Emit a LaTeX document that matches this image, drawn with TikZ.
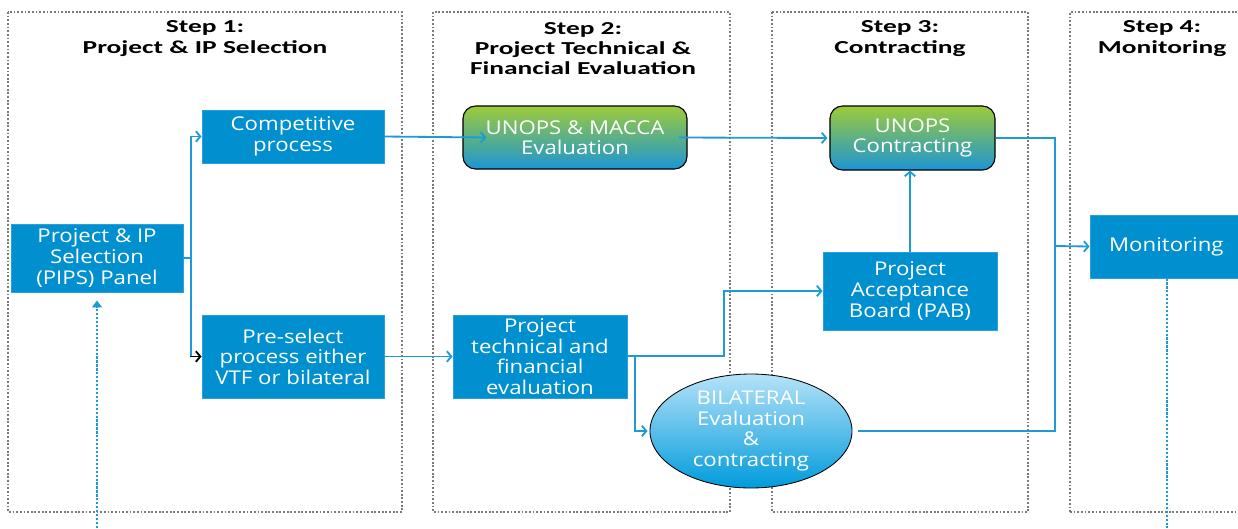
\documentclass[tikz,border=0pt]{standalone}
\usepackage{fontspec}
\usetikzlibrary{arrows.meta,shapes.geometric}
\newfontfamily\boxfont[FakeStretch=1.17]{Open Sans}
\newfontfamily\titlefont[FakeStretch=1.5]{Carlito}
\definecolor{boxblue}{HTML}{0090D0}
\definecolor{boxedge}{HTML}{2AA0DC}
\definecolor{linkblue}{HTML}{1E9AD8}
\definecolor{frameg}{HTML}{7A7A7A}
\definecolor{gtop}{HTML}{9DCB3A}
\definecolor{gbot}{HTML}{1C95D4}
\definecolor{etop}{HTML}{B5E2F8}
\definecolor{ebot}{HTML}{009BDC}
\tikzset{
  frame/.style={draw=frameg, line width=1.1pt, dash pattern=on 1.3pt off 1.3pt},
  title/.style={font=\titlefont\bfseries\fontsize{13}{14.4}\selectfont, align=center, text=black},
  bluebox/.style={rectangle, fill=boxblue, draw=boxedge, line width=0.6pt, text=white,
    font=\boxfont\fontsize{13.5}{14.6}\selectfont, align=center, inner sep=1pt},
  gradbox/.style={rectangle, rounded corners=9pt, draw=black, line width=0.8pt,
    top color=gtop, bottom color=gbot, text=white,
    font=\boxfont\fontsize{13.5}{14.6}\selectfont, align=center, inner sep=1pt},
  ellbox/.style={ellipse, draw=black, line width=0.6pt, top color=etop, bottom color=ebot,
    text=white, font=\boxfont\fontsize{13.5}{14.8}\selectfont, align=center, inner sep=0pt},
  link/.style={draw=linkblue, line width=1.3pt},
  tip/.style={-{Straight Barb[length=3.2pt,width=7.5pt,line width=1.3pt]}},
  dotlink/.style={draw=linkblue, line width=2pt, dash pattern=on 1.6pt off 1.2pt},
}
\begin{document}
\begin{tikzpicture}[x=0.025cm,y=-0.025cm]
\useasboundingbox (0,0) rectangle (1238,528);
% frames
\draw[frame] (8,12) rectangle (402,512);
\draw[frame] (433,12) rectangle (730,512);
\draw[frame] (772,12) rectangle (1028,512);
\draw[frame] (1070,512) -- (1070,12) -- (1250,12);
\draw[frame] (1070,512) -- (1250,512);
% titles
\node[title] (t1) at (205,38.5) {Step 1:\\Project \& IP Selection};
\node[title] (t2) at (583,48.5) {Step 2:\\Project Technical \&\\Financial Evaluation};
\node[title] (t3) at (900,38.5) {Step 3:\\Contracting};
\node[title] (t4) at (1162,38.5) {Step 4:\\Monitoring};
% nodes
\node[bluebox, minimum width=4.3cm, minimum height=1.7cm] (pips) at (97,258) {Project \& IP\\Selection\\(PIPS) Panel};
\node[bluebox, minimum width=4.55cm, minimum height=1.325cm] (comp) at (293,136.5) {Competitive\\process};
\node[bluebox, minimum width=4.55cm, minimum height=2.075cm] (pre) at (293,356.5) {Pre-select\\process either\\VTF or bilateral};
\node[gradbox, minimum width=5.6cm, minimum height=1.575cm] (macca) at (575,137.5) {UNOPS \& MACCA\\Evaluation};
\node[bluebox, minimum width=4.35cm, minimum height=2.075cm] (eval) at (540,356.5) {Project\\technical and\\financial\\evaluation};
\node[ellbox, minimum width=5.05cm, minimum height=2.6cm] (bil) at (751,431) {BILATERAL\\Evaluation\\\&\\contracting};
\node[gradbox, minimum width=4.125cm, minimum height=1.6cm] (uc) at (912.5,138) {UNOPS\\Contracting};
\node[bluebox, minimum width=4.35cm, minimum height=1.95cm] (pab) at (910,291) {Project\\Acceptance\\Board (PAB)};
\node[bluebox, minimum width=3.75cm, minimum height=1.575cm] (mon) at (1165,246.5) {\hspace*{2pt}Monitoring};
% coordinates
\coordinate (split) at (191,258);
\coordinate (evj) at (724,356);
\coordinate (evb) at (635,356);
\coordinate (mj) at (1055,246);
% connectors
\draw[link] (pips.east |- split) -- (split);
\draw[link, tip] (split) |- (comp.west);
\draw[link] (split) |- ([xshift=-0.25cm]pre.west);
\draw[link, -{Straight Barb[length=3.2pt,width=7.5pt,line width=1.3pt]}, draw=black] ([xshift=-0.3cm]pre.west) -- (pre.west);
\draw[link, tip] (comp.east) -- ([xshift=0.6cm]macca.west);
\draw[link, tip] ([xshift=-0.22cm]macca.east) -- ([xshift=-0.05cm]uc.west);
\draw[link, tip] (pre.east) -- (eval.west);
\draw[link, tip] (eval.east |- evj) -- (evj) |- (pab.west);
\draw[link, tip] (evb) |- ([xshift=-0.05cm]bil.west);
\draw[link, tip] (pab.north) -- (pab.north |- uc.south);
\draw[link] (uc.east) -| (mj |- bil.east) -- ([xshift=0.15cm]bil.east);
\draw[link, tip] (mj) -- (mon.west);
\draw[dotlink, -{Triangle[length=5pt,width=7pt]}] (pips.south |- 0,528) -- ([yshift=-0.2cm]pips.south);
\draw[dotlink] ([xshift=0.05cm]mon.south) -- ([xshift=0.05cm]mon.south |- 0,528);
\end{tikzpicture}
\end{document}
